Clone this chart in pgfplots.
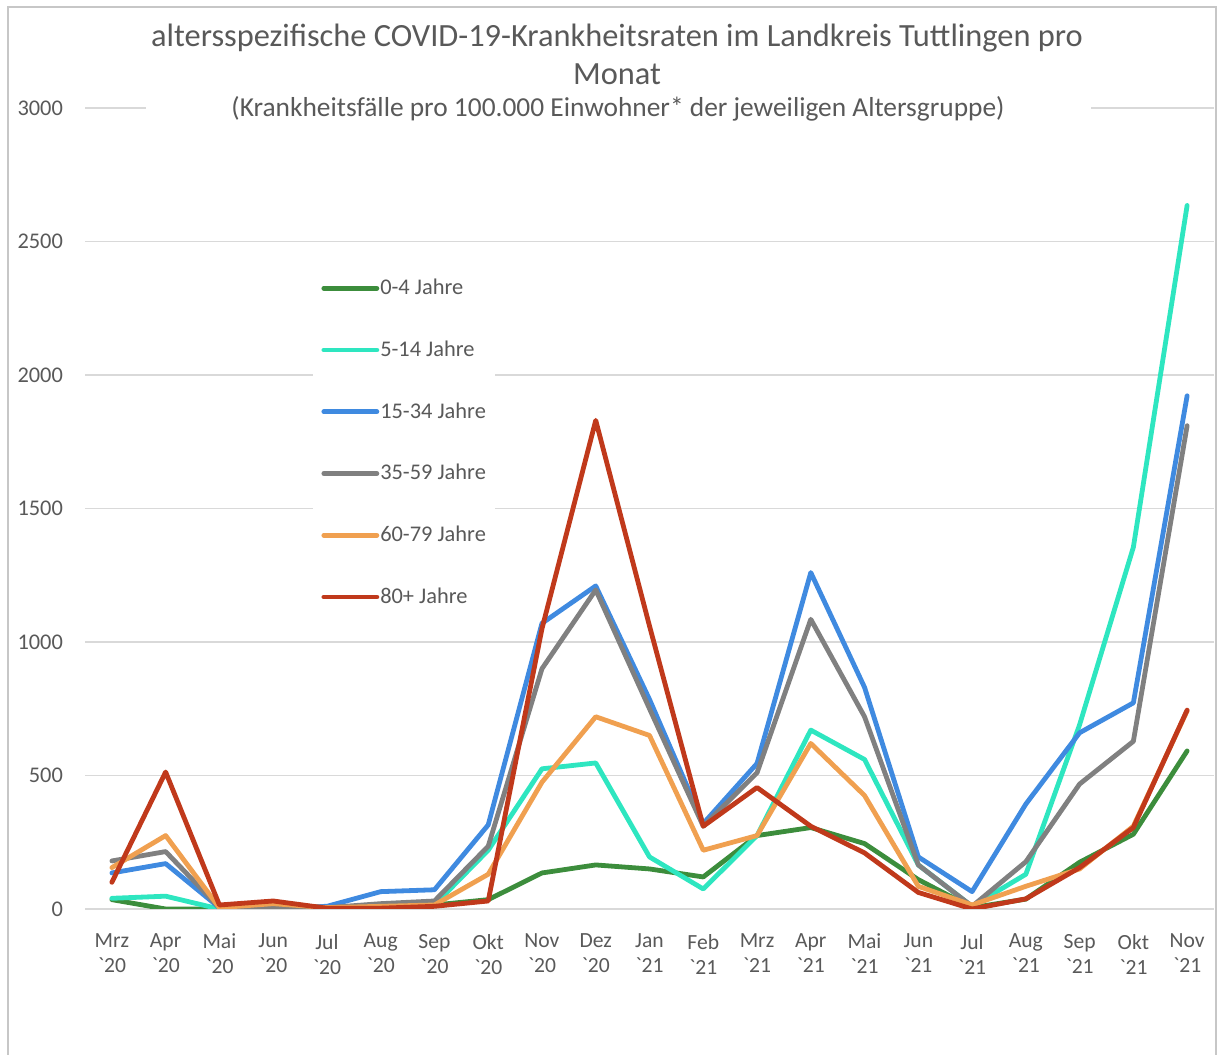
\documentclass[border=0pt]{standalone}
\usepackage{fontspec}
\setmainfont{Carlito}
\usepackage{pgfplots}
\pgfplotsset{compat=1.18}
\usepackage{pgfplotstable}

\definecolor{cGreen}{HTML}{3C8D3C}
\definecolor{cTurq}{HTML}{2EE6C0}
\definecolor{cBlue}{HTML}{3F8AE0}
\definecolor{cGray}{HTML}{808080}
\definecolor{cOrange}{HTML}{F0A050}
\definecolor{cRed}{HTML}{C0391B}
\definecolor{gridgray}{HTML}{D9D9D9}
\definecolor{txtgray}{HTML}{595959}

\pgfplotstableread{
x g t b gr o r
0 35 40 135 180 155 100
1 0 48 170 215 275 513
2 0 0 5 5 5 15
3 5 3 5 5 20 30
4 5 3 10 5 5 3
5 5 5 65 20 10 3
6 15 15 72 30 15 10
7 35 220 315 235 130 30
8 135 525 1070 900 475 1050
9 165 547 1210 1195 720 1830
10 150 195 785 750 650 1060
11 120 75 320 310 220 310
12 275 275 545 510 275 455
13 305 670 1260 1085 620 310
14 245 560 830 720 425 210
15 110 165 195 165 85 62
16 5 10 65 10 15 0
17 37 130 393 177 85 38
18 175 690 660 468 150 155
19 280 1355 772 628 310 305
20 592 2635 1922 1810 742 745
}\data

\begin{document}
\begin{tikzpicture}[x=1pt,y=1pt]
\useasboundingbox (0,0) rectangle (608.5,527.5);
\draw[gridgray!80!gray, line width=0.6pt] (4,-5) -- (4,524) -- (608,524) -- (608,-5);
\begin{axis}[
  at={(42.5pt,73pt)}, anchor=south west,
  scale only axis, width=564.5pt, height=400.5pt,
  xmin=-0.5, xmax=20.5, ymin=0, ymax=3000,
  axis line style={draw=none},
  tick style={draw=none},
  ymajorgrids, grid style={color=gridgray, line width=0.7pt},
  ytick={0,500,...,3000},
  /pgf/number format/assume math mode=true,
  /pgf/number format/1000 sep={},
  yticklabel style={font=\fontsize{11.2}{12}\selectfont, text=txtgray, xshift=-7.5pt},
  xtick={0,...,20},
  xticklabels={{Mrz\\\textasciigrave20},{Apr\\\textasciigrave20},{Mai\\\textasciigrave20},{Jun\\\textasciigrave20},{Jul\\\textasciigrave20},{Aug\\\textasciigrave20},{Sep\\\textasciigrave20},{Okt\\\textasciigrave20},{Nov\\\textasciigrave20},{Dez\\\textasciigrave20},{Jan\\\textasciigrave21},{Feb\\\textasciigrave21},{Mrz\\\textasciigrave21},{Apr\\\textasciigrave21},{Mai\\\textasciigrave21},{Jun\\\textasciigrave21},{Jul\\\textasciigrave21},{Aug\\\textasciigrave21},{Sep\\\textasciigrave21},{Okt\\\textasciigrave21},{Nov\\\textasciigrave21}},
  xticklabel style={font=\fontsize{10.8}{12.5}\selectfont, text=txtgray, align=center, yshift=-9pt},
  legend style={at={(0.202,0.812)}, anchor=north west, draw=none, fill=white,
    font=\fontsize{11.2}{12}\selectfont, text=txtgray, row sep=17.6pt,
    inner xsep=4pt, inner ysep=8pt, nodes={inner xsep=0.5pt}},
  legend cell align=left,
  legend image code/.code={\draw[#1, line width=2.4pt] (0pt,0pt) -- (26.5pt,0pt);},
  every axis plot/.append style={line width=2.4pt, line join=round, line cap=round},
]
\addplot[cGreen] table[x=x,y=g]{\data};
\addlegendentry{0-4 Jahre}
\addplot[cTurq] table[x=x,y=t]{\data};
\addlegendentry{5-14 Jahre}
\addplot[cBlue] table[x=x,y=b]{\data};
\addlegendentry{15-34 Jahre}
\addplot[cGray] table[x=x,y=gr]{\data};
\addlegendentry{35-59 Jahre}
\addplot[cOrange] table[x=x,y=o]{\data};
\addlegendentry{60-79 Jahre}
\addplot[cRed] table[x=x,y=r]{\data};
\addlegendentry{80+ Jahre}
\end{axis}
\node[font=\fontsize{16.2}{19}\selectfont, text=txtgray] at (308.5,508.5) {altersspezifische COVID-19-Krankheitsraten im Landkreis Tuttlingen pro};
\node[font=\fontsize{16.2}{19}\selectfont, text=txtgray] at (308.5,490.5) {Monat};
\node[fill=white, minimum width=472.5pt, inner ysep=2pt, font=\fontsize{13.7}{15}\selectfont, text=txtgray] at (309,473) {(Krankheitsfälle pro 100.000 Einwohner* der jeweiligen Altersgruppe)};
\end{tikzpicture}
\end{document}
